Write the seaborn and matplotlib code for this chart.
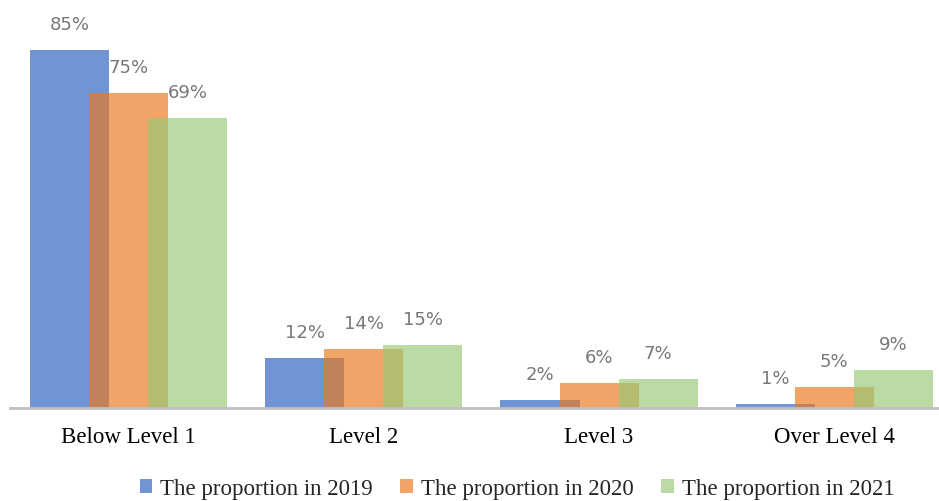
import numpy as np
import pandas as pd
import matplotlib
matplotlib.use("Agg")
import matplotlib.pyplot as plt
import seaborn as sns
from matplotlib.patches import Patch

categories = ["Below Level 1", "Level 2", "Level 3", "Over Level 4"]
series_names = ["The proportion in 2019", "The proportion in 2020", "The proportion in 2021"]
values_2019 = [85, 12, 2, 1]
values_2020 = [75, 14, 6, 5]
values_2021 = [69, 15, 7, 9]

sns.set_theme(style="white")

fig = plt.figure(figsize=(9.39, 5.01), dpi=100)
ax = fig.add_axes([10/939, 93/501, 929/939, 408/501])

colors = [(112/255, 148/255, 212/255), (233/255, 121/255, 33/255), (152/255, 201/255, 115/255)]
alphas = [1.0, 0.68, 0.65]
offsets = [-0.251, 0.0, 0.251]
width = 0.336
idx = np.arange(len(categories))

for vals, c, a, off in zip([values_2019, values_2020, values_2021], colors, alphas, offsets):
    df = pd.DataFrame({"x": idx + off, "y": vals})
    sns.barplot(data=df, x="x", y="y", native_scale=True, width=width,
                color=c, alpha=a, saturation=1, ax=ax, linewidth=0, errorbar=None)
    for xi, v in zip(idx + off, vals):
        ax.annotate(f"{v}%", (xi, v), xytext=(0, 18), textcoords="offset points",
                    ha="center", va="center", fontsize=13, color="#777777",
                    family="DejaVu Sans")

ax.set_xlim(-0.504, 3.445)
ax.set_ylim(0, 97)
ax.set_xticks(idx)
ax.set_xticklabels(categories, family="Liberation Serif", fontsize=16.5, color="black")
ax.tick_params(axis="x", length=0, pad=14)
ax.set_yticks([])
ax.set_xlabel("")
ax.set_ylabel("")
for s in ["top", "right", "left"]:
    ax.spines[s].set_visible(False)
ax.spines["bottom"].set_color("#bfbfbf")
ax.spines["bottom"].set_linewidth(2)

handles = [Patch(facecolor=c, alpha=a, edgecolor="none") for c, a in zip(colors, alphas)]
fig.legend(handles, series_names, loc="center", bbox_to_anchor=(517/939, 1 - 489/501),
           ncol=3, frameon=False, prop={"family": "Liberation Serif", "size": 16.5},
           handlelength=0.55, handleheight=0.55, handletextpad=0.35, columnspacing=1.2,
           borderpad=0)

fig.savefig("out.png", dpi=100)
